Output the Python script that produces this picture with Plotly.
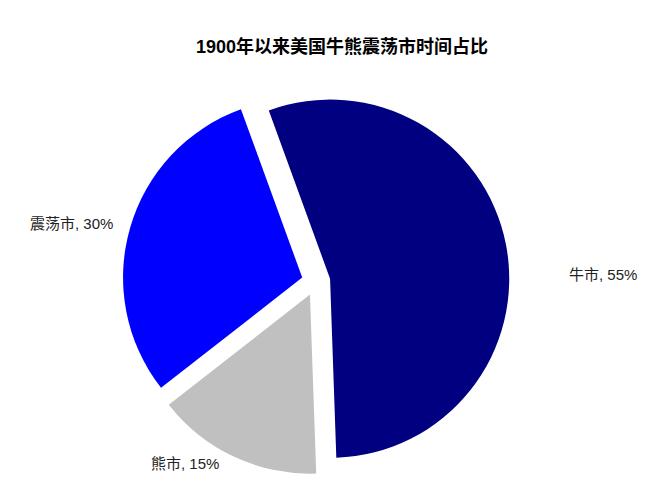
import plotly.graph_objects as go

# 1900年以来美国牛熊震荡市时间占比
labels = ["牛市", "熊市", "震荡市"]
shares = [55, 15, 30]
colors = ["#000080", "#C0C0C0", "#0000FF"]

cjk_font = "Liberation Sans, Arial, Noto Sans CJK SC, sans-serif"

fig = go.Figure(go.Pie(
    labels=labels,
    values=shares,
    sort=False,
    direction="clockwise",
    rotation=-20,
    pull=[0.08, 0.08, 0.08],
    marker=dict(colors=colors, line=dict(width=0)),
    textinfo="none",
    hoverinfo="label+percent",
    showlegend=False,
))

# label positions (paper coords) for the outside labels
label_pos = [(0.922, 0.517), (0.219, 0.031), (0.015, 0.651)]
for name, val, (x, y) in zip(labels, shares, label_pos):
    fig.add_annotation(
        x=x, y=y, xref="paper", yref="paper",
        text=f"{name}, {val}%", showarrow=False,
        xanchor="left", yanchor="middle",
        font=dict(family=cjk_font, size=15, color="#222222"),
    )

fig.update_layout(
    width=664, height=485,
    margin=dict(l=11, r=59, t=80, b=18),
    paper_bgcolor="white",
    plot_bgcolor="white",
    title=dict(
        text="<b>1900年以来美国牛熊震荡市时间占比</b>",
        x=0.503, xanchor="center", y=0.92, yanchor="middle",
        font=dict(family=cjk_font, size=18, color="black"),
    ),
)

fig.write_html("out.html")
